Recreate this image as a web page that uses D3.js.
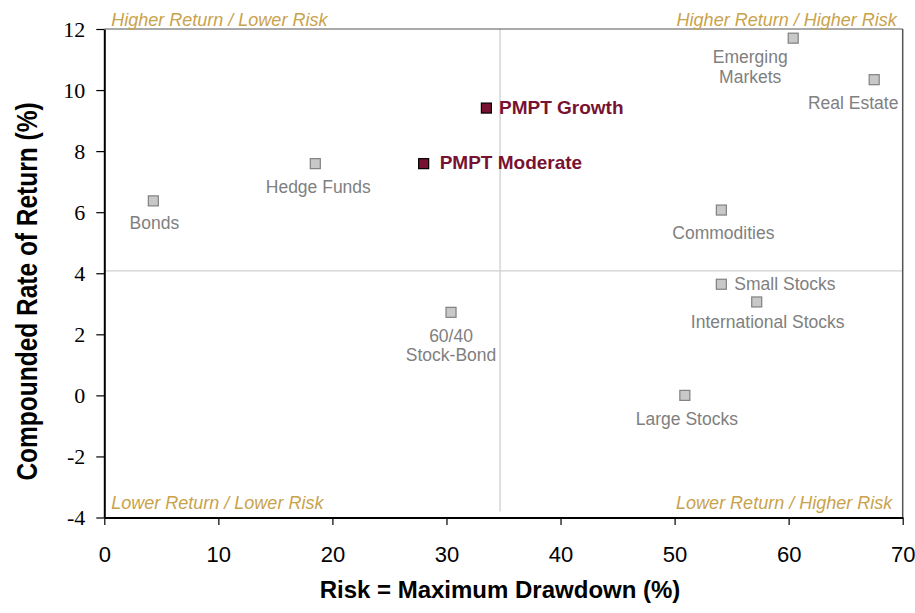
<!DOCTYPE html>
<head>
    <meta charset="utf-8">
    <script src="https://d3js.org/d3.v7.min.js"></script>
    <style>
        body { margin: 0; background: #fff; }
    </style>
</head>
<body>
    <div id="chart"></div>
    <script>
        // values
        var assets = ["Bonds", "Hedge Funds", "PMPT Moderate", "PMPT Growth", "Emerging Markets",
            "Real Estate", "Commodities", "Small Stocks", "International Stocks", "60/40 Stock-Bond", "Large Stocks"]
        var drawdown = [4.3, 18.5, 28.0, 33.5, 60.4, 67.5, 54.1, 54.1, 57.2, 30.4, 50.9]
        var returns = [6.37, 7.59, 7.59, 9.41, 11.7, 10.34, 6.07, 3.64, 3.06, 2.72, 0.0]
        var highlighted = ["PMPT Moderate", "PMPT Growth"]
        var xTicks = [0, 10, 20, 30, 40, 50, 60, 70]
        var yTicks = [-4, -2, 0, 2, 4, 6, 8, 10, 12]
        var riskSplit = 34.7
        var returnSplit = 4.08
        var quadrants = ["Higher Return / Lower Risk", "Higher Return / Higher Risk",
            "Lower Return / Lower Risk", "Lower Return / Higher Risk"]

        // label lines and placement (dx, dy, anchor)
        var labelLines = {
            "Emerging Markets": ["Emerging", "Markets"],
            "60/40 Stock-Bond": ["60/40", "Stock-Bond"]
        }
        var labelPlace = {
            "Bonds": [1, 28.5, "middle"],
            "Hedge Funds": [3, 29, "middle"],
            "PMPT Moderate": [16, 5.5, "start"],
            "PMPT Growth": [12.6, 5.5, "start"],
            "Emerging Markets": [-43, 25, "middle"],
            "Real Estate": [-21, 29, "middle"],
            "Commodities": [2, 29, "middle"],
            "Small Stocks": [13, 6, "start"],
            "International Stocks": [11, 26, "middle"],
            "60/40 Stock-Bond": [0, 29.4, "middle"],
            "Large Stocks": [2, 30, "middle"]
        }

        var W = 915, H = 613
        var margin = { top: 29, right: 12.3, bottom: 95.5, left: 104.3 }
        var gold = "#c9a24c", maroon = "#781232", grey = "#808080"
        var sans = "Arial, 'Liberation Sans', sans-serif"
        var serif = "'Liberation Serif', 'Times New Roman', serif"

        var svg = d3.select("#chart").append("svg")
            .attr("width", W).attr("height", H)
            .style("font-family", sans)

        var x = d3.scaleLinear().domain([0, 70]).range([margin.left, W - margin.right])
        var y = d3.scaleLinear().domain([-4, 12]).range([H - margin.bottom, margin.top])

        // quadrant dividers
        svg.append("line")
            .attr("x1", x(0)).attr("x2", x(70))
            .attr("y1", y(returnSplit)).attr("y2", y(returnSplit))
            .attr("stroke", "#cfcfcf").attr("stroke-width", 1.3)
        svg.append("line")
            .attr("x1", x(riskSplit)).attr("x2", x(riskSplit))
            .attr("y1", y(12)).attr("y2", y(-4) - 6)
            .attr("stroke", "#cfcfcf").attr("stroke-width", 1.3)

        // top and right frame
        svg.append("line")
            .attr("x1", x(0)).attr("x2", x(70)).attr("y1", y(12)).attr("y2", y(12))
            .attr("stroke", "#555").attr("stroke-width", 1)
        svg.append("line")
            .attr("x1", x(70)).attr("x2", x(70)).attr("y1", y(12)).attr("y2", y(-4))
            .attr("stroke", "#555").attr("stroke-width", 1.5)

        // axes
        var xAxis = svg.append("g")
            .attr("transform", "translate(0," + y(-4) + ")")
            .call(d3.axisBottom(x).tickValues(xTicks).tickFormat(d => String(d))
                .tickSize(7.5).tickSizeOuter(0).tickPadding(21))
        xAxis.attr("font-family", null).attr("font-size", null)
        xAxis.selectAll("text").style("font-size", "22px").style("font-family", sans).attr("fill", "#000")

        var yAxis = svg.append("g")
            .attr("transform", "translate(" + x(0) + ",0)")
            .call(d3.axisLeft(y).tickValues(yTicks).tickFormat(d => String(d))
                .tickSize(8).tickSizeOuter(0).tickPadding(11))
        yAxis.selectAll("text").style("font-size", "22px").style("font-family", serif).attr("fill", "#000")

        svg.selectAll(".domain").attr("stroke", "#000").attr("stroke-width", 2)
        svg.selectAll(".tick line").attr("stroke", "#000").attr("stroke-width", 1.2)

        // quadrant captions
        var qPos = [
            [x(0) + 7, y(12) - 3.5, "start"],
            [x(70) - 6, y(12) - 3.5, "end"],
            [x(0) + 7, y(-4) - 8.5, "start"],
            [x(70) - 10.5, y(-4) - 8.5, "end"]
        ]
        svg.append("g").selectAll("text").data(quadrants).join("text")
            .attr("x", (d, i) => qPos[i][0])
            .attr("y", (d, i) => qPos[i][1])
            .attr("text-anchor", (d, i) => qPos[i][2])
            .attr("font-size", 18).attr("font-style", "italic")
            .attr("fill", gold)
            .text(d => d)

        // points
        var pts = assets.map((name, i) => ({
            name: name, risk: drawdown[i], ret: returns[i],
            hi: highlighted.indexOf(name) >= 0
        }))

        var s = 10
        svg.append("g").selectAll("rect").data(pts).join("rect")
            .attr("x", d => x(d.risk) - s / 2)
            .attr("y", d => y(d.ret) - s / 2)
            .attr("width", s).attr("height", s)
            .attr("fill", d => d.hi ? maroon : "#c8c8c8")
            .attr("stroke", d => d.hi ? "#000" : grey)
            .attr("stroke-width", 1.2)

        var labels = svg.append("g").selectAll("text").data(pts).join("text")
            .attr("x", d => x(d.risk) + labelPlace[d.name][0])
            .attr("y", d => y(d.ret) + labelPlace[d.name][1])
            .attr("text-anchor", d => labelPlace[d.name][2])
            .attr("font-size", d => d.hi ? 19 : 17.5)
            .attr("font-weight", d => d.hi ? "bold" : "normal")
            .attr("fill", d => d.hi ? maroon : grey)

        labels.selectAll("tspan")
            .data(d => (labelLines[d.name] || [d.name]).map(t => ({ t: t, d: d })))
            .join("tspan")
            .attr("x", o => x(o.d.risk) + labelPlace[o.d.name][0])
            .attr("dy", (o, i) => i === 0 ? 0 : 19.5)
            .text(o => o.t)

        // axis titles
        svg.append("text")
            .attr("x", 500).attr("y", 597.5)
            .attr("text-anchor", "middle")
            .attr("font-size", 24).attr("font-weight", "bold")
            .text("Risk = Maximum Drawdown (%)")

        svg.append("text")
            .attr("transform", "translate(36.5,291.5) scale(1.22,1) rotate(-90)")
            .attr("text-anchor", "middle")
            .attr("font-size", 24.5).attr("font-weight", "bold")
            .text("Compounded Rate of Return (%)")
    </script>
</body>
</html>
